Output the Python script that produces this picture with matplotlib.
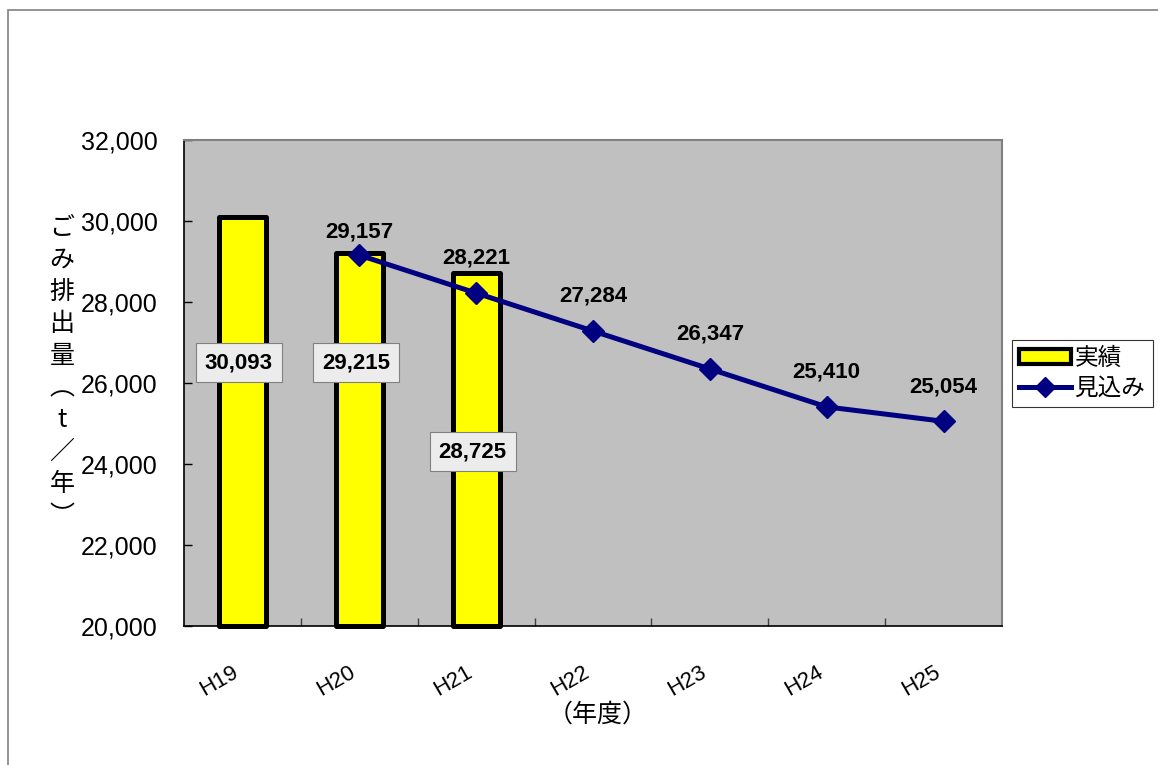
import numpy as np
import matplotlib.pyplot as plt
from matplotlib.patches import Patch, Rectangle
from matplotlib.lines import Line2D

#%% data
years = ['H19', 'H20', 'H21', 'H22', 'H23', 'H24', 'H25']
actual = [30093, 29215, 28725]
forecast = [None, 29157, 28221, 27284, 26347, 25410, 25054]
actual_label_y = [26500, 26500, 24300]
forecast_offset = [None, 17, 25, 25, 25, 25, 25]

jp = ['Noto Sans CJK JP', 'DejaVu Sans']
num = ['Liberation Sans', 'DejaVu Sans']

#%%
fig = plt.figure(figsize=(11.58, 7.65), dpi=100)
fig.patches.append(Rectangle((8 / 1158, -0.1), 2, 1 - 10 / 765 + 0.1, transform=fig.transFigure,
                             fill=False, edgecolor='#808080', linewidth=1.2))
ax = fig.add_axes([184 / 1158, 1 - 626 / 765, 818 / 1158, 486 / 765])
ax.set_facecolor('#c0c0c0')

x = np.arange(len(years))
xa = x[:len(actual)]
ax.bar(xa, np.array(actual) - 20000, bottom=20000, width=0.40, color='#ffff00',
       edgecolor='black', linewidth=3.6, joinstyle='round', clip_on=False, zorder=2)
for xi, v, ly in zip(xa, actual, actual_label_y):
    ax.text(xi - 0.03, ly, f'{v:,}', ha='center', va='center', fontsize=16, fontweight='bold',
            family=num, zorder=4,
            bbox=dict(boxstyle='square,pad=0.4', facecolor='#ececec', edgecolor='#808080', linewidth=0.8))

xf = [xi for xi, v in zip(x, forecast) if v is not None]
yf = [v for v in forecast if v is not None]
ax.plot(xf, yf, color='#000080', linewidth=3.6, marker='D', markersize=11, zorder=3)
for xi, v, off in zip(x, forecast, forecast_offset):
    if v is None:
        continue
    ax.annotate(f'{v:,}', (xi, v), xytext=(0, off), textcoords='offset points', ha='center',
                va='center', fontsize=16, fontweight='bold', family=num, zorder=4)

ax.set_xlim(-0.5, len(years) - 0.5)
ax.set_ylim(20000, 32000)
ax.set_yticks(np.arange(20000, 32001, 2000))
ax.set_yticklabels([f'{v:,}' for v in range(20000, 32001, 2000)], family=num, fontsize=18)
ax.tick_params(axis='y', direction='in', length=6, pad=19, width=1)
ax.set_xticks(x)
ax.set_xticklabels(years, family=num, fontsize=16, rotation=30, ha='right')
ax.tick_params(axis='x', which='major', length=0, pad=26)
ax.set_xticks(np.arange(0.5, len(years) - 0.5, 1), minor=True)
ax.tick_params(axis='x', which='minor', direction='in', length=6, width=1, color='#404040')
for s in ['top', 'right']:
    ax.spines[s].set_color('#808080')
    ax.spines[s].set_linewidth(1.5)
for s in ['left', 'bottom']:
    ax.spines[s].set_color('black')
    ax.spines[s].set_linewidth(1.2)

fig.text(62 / 1158, 1 - 372 / 765, 'ご\nみ\n排\n出\n量\n︵\nt\n／\n年\n︶', ha='center', va='center',
         fontsize=18, family=jp, linespacing=1.3)
fig.text(598 / 1158, 1 - 715 / 765, '（年度）', ha='center', va='center', fontsize=18, family=jp)

handles = [Patch(facecolor='#ffff00', edgecolor='black', linewidth=3, joinstyle='round'),
           Line2D([], [], color='#000080', linewidth=3.6, marker='D', markersize=10)]
leg = fig.legend(handles, ['実績', '見込み'], loc='upper left', bbox_to_anchor=(1012 / 1158, 1 - 340 / 765),
                 prop={'family': jp, 'size': 17}, frameon=True, fancybox=False, handlelength=2.2,
                 handleheight=0.6, borderpad=0.3, labelspacing=0.3, handletextpad=0.15, borderaxespad=0)
leg.get_frame().set_edgecolor('black')
leg.get_frame().set_linewidth(0.8)

fig.savefig('out.png', dpi=100)
